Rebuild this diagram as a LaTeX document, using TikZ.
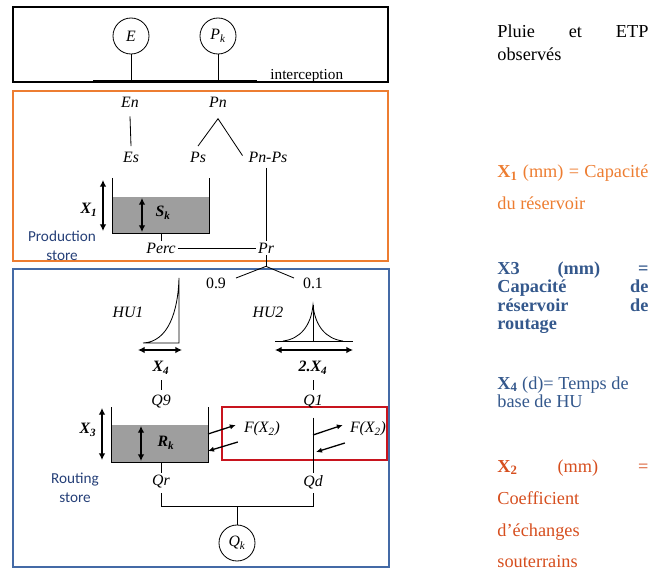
\documentclass[tikz,border=0pt]{standalone}
\usepackage{fontspec}
\setmainfont{Liberation Serif}
\newfontfamily\calibri{Carlito}
\usepackage{xcolor}
\usepackage{tikz}
\usetikzlibrary{arrows.meta,positioning}

\definecolor{orangeGR}{RGB}{237,125,49}
\definecolor{blueGR}{RGB}{68,106,166}
\definecolor{blueTxt}{RGB}{52,88,140}
\definecolor{redGR}{RGB}{200,20,30}
\definecolor{redTxt}{RGB}{214,78,30}
\definecolor{navyTxt}{RGB}{38,64,120}
\newcommand{\jline}[1]{\hbox to 4.53cm{#1}}

\begin{document}
\begin{tikzpicture}[x=0.03cm, y=-0.03cm, line width=0.7pt,
    var/.style={font=\fontsize{13.5}{15}\selectfont\itshape, inner sep=1.5pt},
    bvar/.style={var, font=\fontsize{13.5}{15}\selectfont\bfseries\itshape},
    num/.style={font=\fontsize{13.5}{15}\selectfont, inner sep=1.5pt},
    gauge/.style={draw, circle, minimum size=1.08cm, inner sep=0pt,
                  font=\fontsize{13.5}{15}\selectfont\itshape},
    store/.style={font=\calibri\fontsize{13}{16}\selectfont, align=center, text=navyTxt},
    tankfill/.style={fill=black!38},
    dbl/.style={{Latex[length=2mm,width=2mm]}-{Latex[length=2mm,width=2mm]}, line width=1.3pt},
    flux/.style={-{Latex[length=1.8mm,width=1.6mm]}, line width=1.1pt},
    note/.style={anchor=base west, inner sep=0pt, font=\fontsize{15.6}{18}\selectfont}
]
\useasboundingbox (0,0) rectangle (651,572);

% ---------- inputs: rain and PET ----------
\draw[line width=2.5pt] (13,7) rectangle (388,82);
\node[gauge] (E) at (131,36) {E};
\node[gauge] (Pk) at (218,36) {P\textsubscript{k}};
\coordinate (iL) at (93,80);
\coordinate (iR) at (257,80);
\draw (iL) -- (iR);
\draw (E.south) -- (E.south |- iL);
\draw (Pk.south) -- (Pk.south |- iL);
\node[anchor=base west, inner sep=0pt, font=\fontsize{13}{15}\selectfont] (icpt) at (270,80) {interception};

% ---------- production store ----------
\draw[orangeGR, line width=2.5pt] (13,91) rectangle (388,261);
\node[var] (En) at (130,102) {En};
\node[var] (Pn) at (218,102) {Pn};
\node[var] (Es) at (131,157) {Es};
\node[var] (Ps) at (198,157) {Ps};
\node[var] (PnPs) at (268,157) {Pn-Ps};
\draw ([yshift=-6pt]En.south) -- ([yshift=3pt]Es.north);
\draw ([yshift=3pt]Ps.north) -- ([yshift=-8pt]Pn.south) -- ([shift={(-4,6)}]PnPs.north west);

\fill[tankfill] (112,197) rectangle (209,233);
\draw (112,178) -- (112,233) -- (209,233) -- (209,178);
\draw[dbl] (103,180) -- (103,231);
\node[bvar] (X1) at (89,210) {X\textsubscript{1}};
\draw[dbl] (142,198) -- (142,232);
\node[bvar] (Sk) at (163,213) {S\textsubscript{k}};
\node[store] (prod) at (62,246) {Production\\store};

\node[var] (Perc) at (161,248) {Perc};
\node[var] (Pr) at (266,248) {Pr};
\coordinate (sbot) at (161,233);
\draw (sbot) -- (Perc.north);
\draw (Perc) -- (Pr);
\draw ([yshift=-3pt]Pr |- PnPs.south) -- (Pr.north);
\draw (Pr.south) -- ++(0,11) coordinate (split);

% ---------- routing part ----------
\draw[blueGR, line width=2.5pt] (13,269) rectangle (389,567);
\node[num] (n09) at (216,283) {0.9};
\node[num] (n01) at (313,283) {0.1};
\draw ([shift={(8,-5)}]n09.east) -- (split) -- ([shift={(-7,-5)}]n01.west);

% unit hydrographs
\node[var] (HU1) at (128,312) {HU1};
\node[var] (HU2) at (268,312) {HU2};
\draw (143,343) -- (179,343) -- (179,278) .. controls (178,312) and (168,342) .. (143,343);
\draw[dbl] (138,350) -- (182,350);
\node[bvar] (X4) at (161,368) {X\textsubscript{4}};
\draw (275,341) -- (353,341);
\draw (313,341) -- (313,305);
\draw (283,341) .. controls (300,339) and (311,326) .. (313,305)
      .. controls (315,326) and (326,339) .. (343,341);
\draw[dbl] (275,350) -- (353,350);
\node[bvar] (X4b) at (313,368) {2.X\textsubscript{4}};

\node[var] (Q9) at (161,402) {Q9};

% groundwater exchange
\draw[redGR, line width=2.2pt] (222,407) rectangle (387,460);
\node[var] (Q1) at (313,402) {Q1};
\draw[shorten <=3pt, shorten >=3pt] (X4) -- (Q9);
\draw[shorten <=3pt, shorten >=3pt] (X4b) -- (Q1);

\fill[tankfill] (111,425) rectangle (208,462);
\draw (111,407) -- (111,462) -- (208,462) -- (208,407);
\draw[dbl] (102,408) -- (102,460);
\node[bvar] (X3) at (88,430) {X\textsubscript{3}};
\draw[dbl] (141,426) -- (141,461);
\node[bvar] (Rk) at (166,443) {R\textsubscript{k}};
\node[store] (rout) at (75,488) {Routing\\store};

\node[var] (FL) at (262,429) {F(X\textsubscript{2})};
\node[var] (FR) at (368,429) {F(X\textsubscript{2})};
\coordinate (rw1) at (208,434);
\coordinate (rw2) at (208,451);
\draw[flux] (rw1) -- ([shift={(-6,-4)}]FL.west);
\draw[flux] ([shift={(-4,13)}]FL.west) -- (rw2);

\node[var] (Qr) at (161,482) {Qr};
\node[var] (Qd) at (313,482) {Qd};
\draw ([yshift=-6pt]Q1.south) -- (Qd.north);
\coordinate (q1a) at (313,435);
\coordinate (q1b) at (316,452);
\draw[flux] (q1a) -- ([shift={(-5,-4)}]FR.west);
\draw[flux] ([shift={(-3,14)}]FR.west) -- (q1b);
\coordinate (rbot) at (161,462);
\draw (rbot) -- (Qr.north);

% outflow
\node[gauge] (Qk) at (237,543) {Q\textsubscript{k}};
\draw ([yshift=-2pt]Qr.south) -- ++(0,13) coordinate (brL) -| ([yshift=-2pt]Qd.south);
\draw (Qk.north) -- (Qk.north |- brL);

% ---------- legend on the right ----------
\node[note] (lgA1) at (497,38) {\jline{Pluie et ETP}};
\node[note] (lgA2) at (497,61) {observés};
\node[note, text=orangeGR] (lgB1) at (497,178) {\jline{\textbf{X\textsubscript{1}} (mm) = Capacité}};
\node[note, text=orangeGR] (lgB2) at (497,210) {du réservoir};
\node[note, text=blueTxt, font=\fontsize{15.6}{18}\selectfont\bfseries] (lgC1) at (497,274) {\jline{X3 (mm) =}};
\node[note, text=blueTxt, font=\fontsize{15.6}{18}\selectfont\bfseries] (lgC2) at (497,292) {\jline{Capacité de}};
\node[note, text=blueTxt, font=\fontsize{15.6}{18}\selectfont\bfseries] (lgC3) at (497,311) {\jline{réservoir de}};
\node[note, text=blueTxt, font=\fontsize{15.6}{18}\selectfont\bfseries] (lgC4) at (497,329) {routage};
\node[note, text=blueTxt] (lgD1) at (497,389) {\textbf{X\textsubscript{4}} (d)= Temps de};
\node[note, text=blueTxt] (lgD2) at (497,407) {base de HU};
\node[note, text=redTxt] (lgE1) at (497,472) {\jline{\textbf{X\textsubscript{2}} (mm) =}};
\node[note, text=redTxt] (lgE2) at (497,504) {Coefficient};
\node[note, text=redTxt] (lgE3) at (497,536) {d’échanges};
\node[note, text=redTxt] (lgE4) at (497,567) {souterrains};

\end{tikzpicture}
\end{document}
